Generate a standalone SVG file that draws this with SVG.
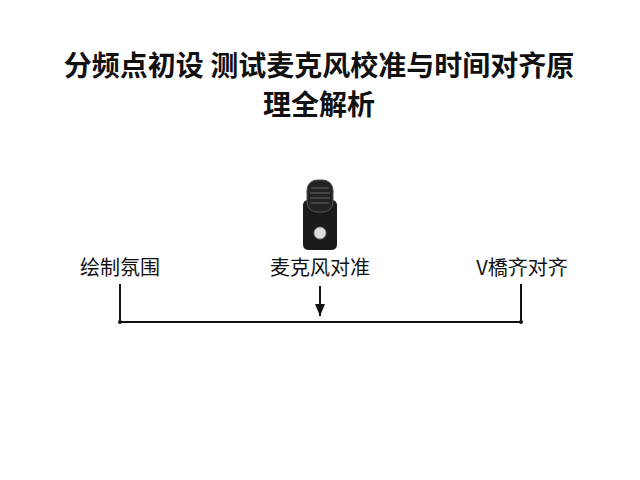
<svg xmlns="http://www.w3.org/2000/svg" width="640" height="480" viewBox="0 0 640 480">
<style>
.t{font-family:"Noto Sans CJK SC","Noto Sans",sans-serif;font-weight:700;font-size:28px;fill:#111;text-anchor:middle}
.l{font-family:"Noto Sans CJK SC","Noto Sans",sans-serif;font-size:20px;fill:#111;text-anchor:middle}
.c{stroke:#111;stroke-width:2;fill:none}
</style>
<defs><marker id="a" markerWidth="12" markerHeight="10" refX="12" refY="5" orient="auto" markerUnits="userSpaceOnUse" viewBox="0 0 12 10"><path d="M0,0L12,5L0,10Z" fill="#111"/></marker></defs>
<rect width="640" height="480" fill="#fff"/>
<text class="t" x="319" y="76">分频点初设 测试麦克风校准与时间对齐原</text>
<text class="t" x="319" y="115">理全解析</text>
<g id="mic">
<rect x="303" y="200" width="34" height="50" rx="5" fill="#1a1a1a"/>
<rect x="307" y="180" width="26" height="32" rx="10" fill="#222" stroke="#555" stroke-width="1"/>
<path d="M311,188H329M310,193H330M310,198H330M311,203H329" stroke="#666" stroke-width="1"/>
<circle cx="320" cy="233" r="6" fill="#ddd" stroke="#888"/>
</g>
<g id="n1"><text class="l" x="120" y="275">绘制氛围</text></g>
<g id="n2"><text class="l" x="320" y="275">麦克风对准</text></g>
<g id="n3"><text class="l" x="522" y="275">V橋齐对齐</text></g>
<g id="connectors">
<path class="c" d="M120,284V322H521V284"/>
<path class="c" d="M320,286V316" marker-end="url(#a)"/>
<circle cx="120" cy="322" r="2" fill="#111"/><circle cx="521" cy="322" r="2" fill="#111"/>
</g>
</svg>
